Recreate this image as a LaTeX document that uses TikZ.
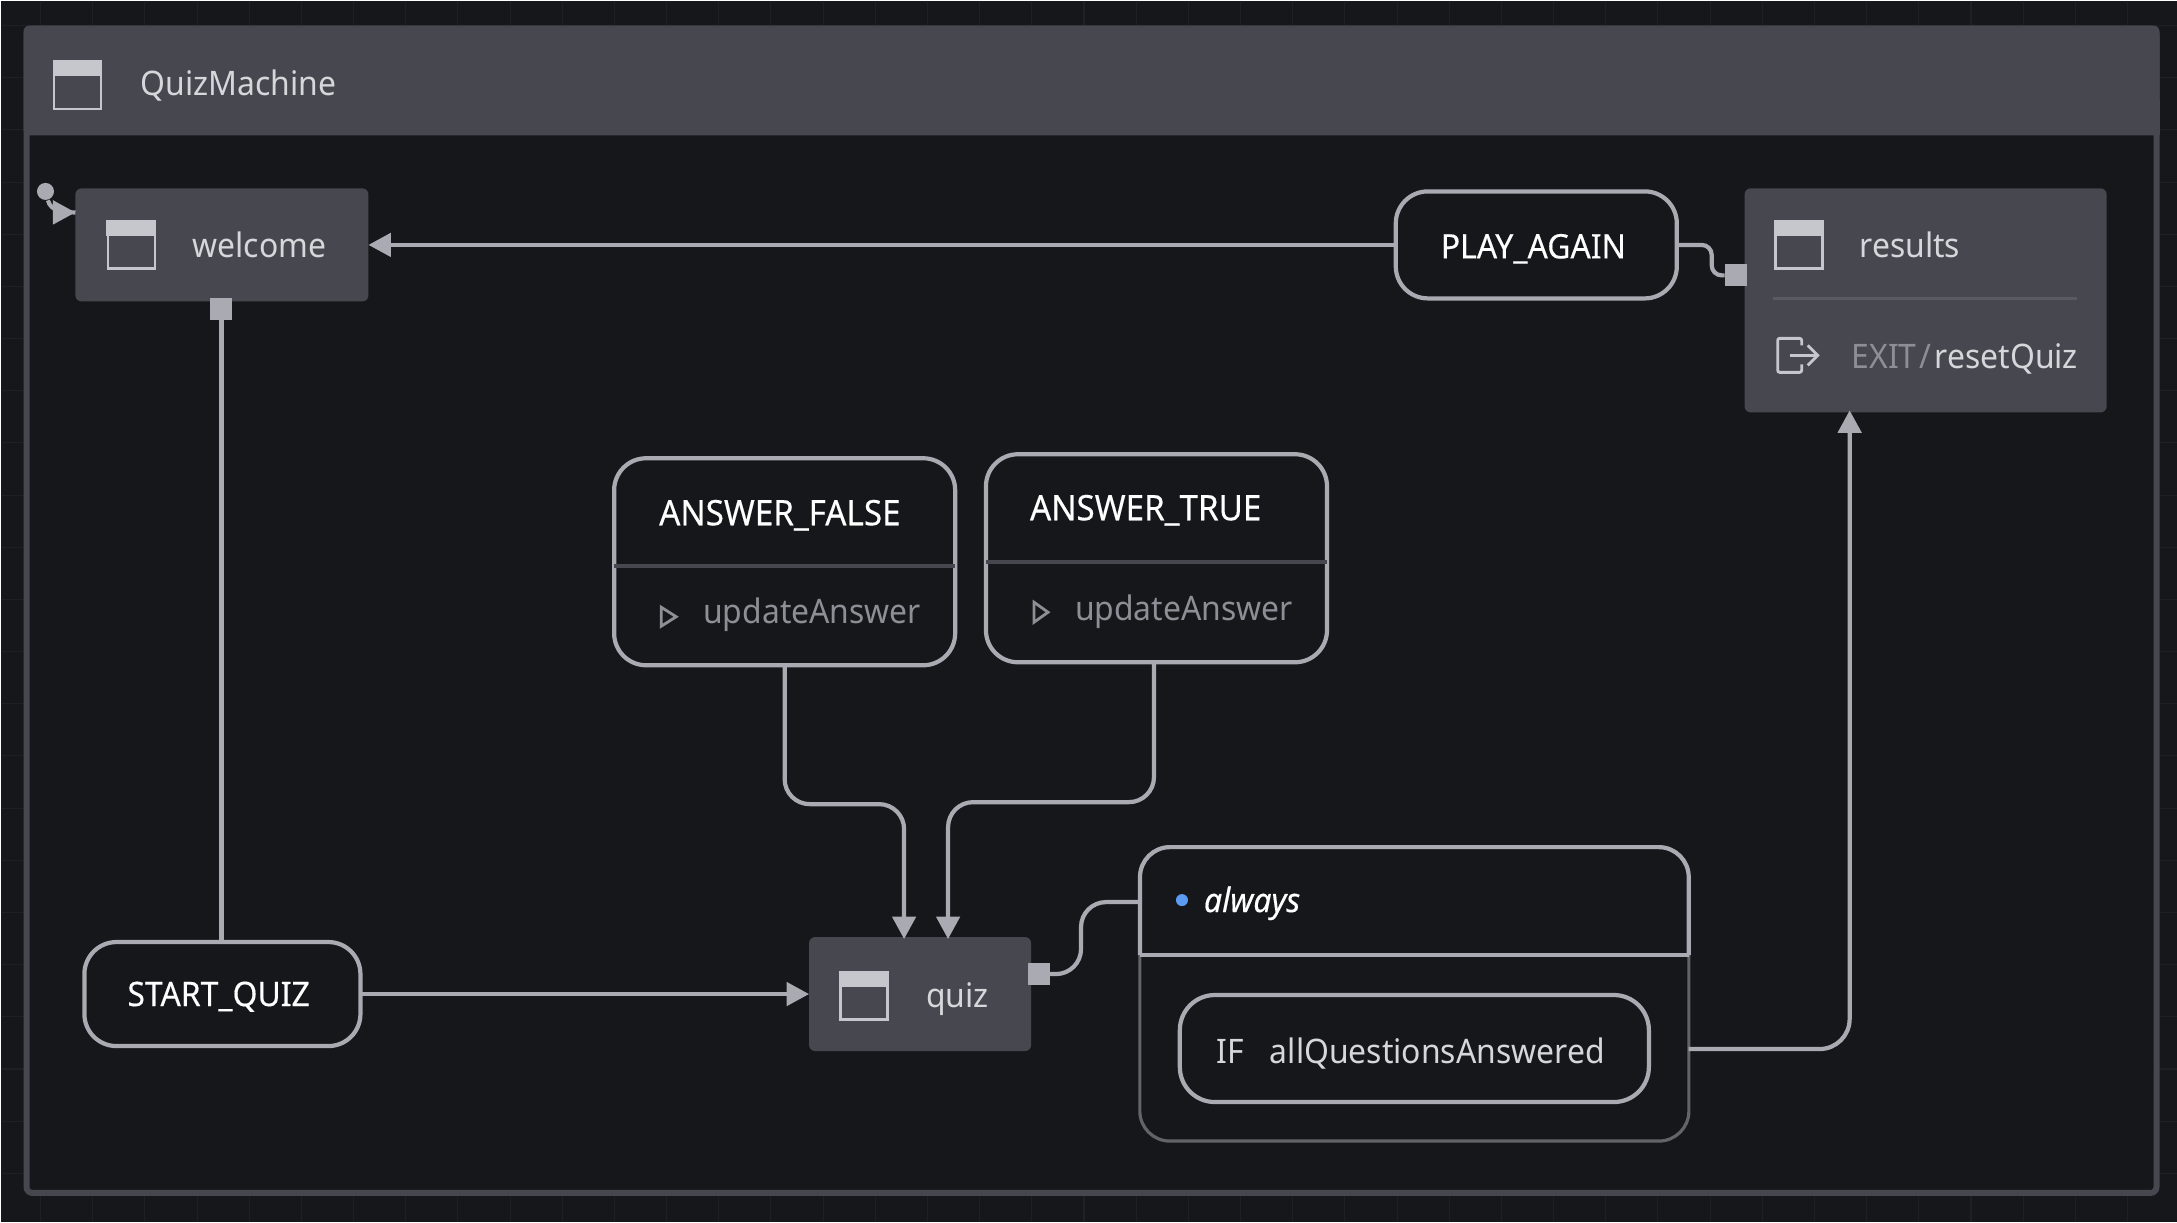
\documentclass[tikz,border=0pt]{standalone}
\usepackage{fontspec}
\setmainfont[FakeStretch=.945]{Noto Sans}
\usetikzlibrary{arrows.meta}

\definecolor{canvasbg}{HTML}{16171A}
\definecolor{gridgray}{HTML}{1F2024}
\definecolor{panelgray}{HTML}{47484F}
\definecolor{edgegray}{HTML}{A9AAB2}
\definecolor{icongray}{HTML}{C6C7CC}
\definecolor{labelgray}{HTML}{D6D7DB}
\definecolor{dimgray}{HTML}{8E8F96}
\definecolor{dotblue}{HTML}{5B9CF2}

\tikzset{
	statenode/.style = {fill=panelgray, rounded corners=.06cm, inner sep=0, outer sep=0},
	eventnode/.style = {draw=edgegray, fill=canvasbg, line width=1.2pt, rounded corners=.32cm, inner sep=0, outer sep=0},
	txt/.style = {anchor=base west, inner sep=0, outer sep=0, font=\fontsize{9.6}{11}\selectfont},
	statelabel/.style = {txt, text=labelgray},
	eventlabel/.style = {txt, text=white, font=\fontsize{9.6}{11}\selectfont\addfontfeature{FakeBold=.35}},
	answerlabel/.style = {txt, text=white, font=\fontsize{10}{11}\selectfont\addfontfeature{FakeBold=.35}},
	dimlabel/.style = {txt, text=dimgray},
	portnode/.style = {fill=edgegray, minimum size=.22cm, inner sep=0, outer sep=0},
	edgeline/.style = {draw=edgegray, line width=1.2pt},
	arrowline/.style = {edgeline, -{Triangle[length=6.4pt,width=6.6pt]}},
	dividerline/.style = {draw=panelgray, line width=1.2pt},
	stateicon/.pic = {
		\fill [icongray] (0,0) rectangle (50,16);
		\draw [icongray, line width=.8pt] (1.5,1.5) rectangle (48.5,48.5);
	}
}

\begin{document}
\begin{tikzpicture}[x=.01cm, y=-.01cm]
		% canvas and grid
		\fill [canvasbg] (0,0) rectangle (2177,1222);
		\foreach \k in {0,...,40}
			\draw [gridgray, line width=.3pt] ({40+52.2*\k},0) -- ({40+52.2*\k},1222);
		\foreach \k in {0,...,22}
			\draw [gridgray, line width=.3pt] (0,{25+52.2*\k}) -- (2177,{25+52.2*\k});
		
		% machine frame
		\draw [panelgray, fill=canvasbg, line width=1.7pt, rounded corners=.06cm] (26,28) rectangle (2157,1193);
		\fill [panelgray, rounded corners=.06cm] (23,25) rectangle (2160,135);
		\fill [panelgray] (23,100) rectangle (2160,135);
		\path (52,60) pic {stateicon};
		\node [statelabel] (machinelabel) at (140,95) {QuizMachine};
		
		% states
		\node [statenode, minimum width=2.93cm, minimum height=1.13cm] (welcome) at (221.5,244.5) {};
		\node [statenode, minimum width=3.62cm, minimum height=2.24cm] (results) at (1926,300) {};
		\node [statenode, minimum width=2.22cm, minimum height=1.14cm] (quiz) at (920,994) {};
		\path (106,220) pic {stateicon};
		\path (1774,220) pic {stateicon};
		\path (839,971) pic {stateicon};
		\node [statelabel] (welcomelabel) at (192,257) {welcome};
		\node [statelabel] (resultslabel) at (1860,257) {results};
		\node [statelabel] (quizlabel) at (926,1007) {quiz};
		\draw [panelgray!90!white, line width=.8pt] (1773,298) -- (2077,298);
		
		% exit action
		\draw [icongray, line width=.8pt, rounded corners=.02cm] (1802,345) -- (1802,338) -- (1778,338) -- (1778,372) -- (1802,372) -- (1802,364);
		\draw [icongray, line width=.8pt] (1790,355) -- (1818,355);
		\draw [icongray, line width=.8pt] (1808,345) -- (1818,355) -- (1808,365);
		\node [dimlabel] (exitlabel) at (1852,368) {EXIT\hspace{.9pt}/\hspace{.9pt}\textcolor{labelgray}{resetQuiz}};
		
		% events
		\node [eventnode, minimum width=2.76cm, minimum height=1.04cm] (startquiz) at (222,994) {};
		\node [eventnode, minimum width=2.81cm, minimum height=1.07cm] (playagain) at (1536.5,244.5) {};
		\node [eventnode, minimum width=3.41cm, minimum height=2.07cm] (answerfalse) at (784.5,561.5) {};
		\node [eventnode, minimum width=3.41cm, minimum height=2.08cm] (answertrue) at (1156.5,558) {};
		\node [eventlabel] (startlabel) at (127,1006) {START\_QUIZ};
		\node [eventlabel] (playlabel) at (1441,258) {PLAY\_AGAIN};
		\node [answerlabel] (falselabel) at (659,525) {ANSWER\_FALSE};
		\node [answerlabel] (truelabel) at (1030,520) {ANSWER\_TRUE};
		\draw [dividerline] (614,566) -- (955,566);
		\draw [dividerline] (986,562) -- (1327,562);
		\draw [dimgray, line width=.8pt] (661,607) -- (676,616.5) -- (661,626) -- cycle;
		\draw [dimgray, line width=.8pt] (1034,602) -- (1048,612) -- (1034,622) -- cycle;
		\node [dimlabel] (falseaction) at (703,623) {updateAnswer};
		\node [dimlabel] (trueaction) at (1075,620) {updateAnswer};
		
		% always block
		\node [draw=panelgray!85!white, fill=canvasbg, line width=.9pt, rounded corners=.3cm, minimum width=5.49cm, minimum height=2.94cm, inner sep=0, outer sep=0] (alwaysbox) at (1414.5,994) {};
		\draw [edgeline, rounded corners=.3cm] (1140,955) -- (1140,847) -- (1689,847) -- (1689,955);
		\draw [edgeline] (1140,955) -- (1689,955);
		\node [circle, fill=dotblue, minimum size=.12cm, inner sep=0] (alwaysdot) at (1182,900) {};
		\node [eventlabel, font=\fontsize{9.6}{11}\selectfont\itshape\addfontfeature{FakeBold=.35}] (alwayslabel) at (1204,912) {always};
		\node [eventnode, rounded corners=.35cm, minimum width=4.69cm, minimum height=1.07cm] (ifbox) at (1414.5,1048.5) {};
		\node [statelabel] (iflabel) at (1217,1063) {IF};
		\node [statelabel] (guardlabel) at (1270,1063) {allQuestionsAnswered};
		
		% ports
		\node [portnode] (welcomeout) at (221,309) {};
		\node [portnode] (resultsport) at (1736,275) {};
		\node [portnode] (quizout) at (1039,974) {};
		\node [circle, fill=edgegray, minimum size=.17cm, inner sep=0] (initdot) at (45,191) {};
		\coordinate (welcomein) at (75,212);
		\coordinate (quizleft) at (904,939);
		\coordinate (quizright) at (948,939);
		\coordinate (trueout) at (1154,662);
		\coordinate (alwaysin) at (1140,902);
		\coordinate (alwaysout) at (1689,1049);
		\coordinate (resultsin) at (1850,410);
		
		% connectors
		\draw [edgeline] (initdot) to[out=-75, in=180] (welcomein);
		\draw [arrowline] (57,212) -- (welcomein);
		\draw [edgeline] (startquiz.north -| welcomeout) -- (welcomeout);
		\draw [arrowline] (startquiz.east) -- (quiz.west);
		\draw [arrowline] (playagain.west) -- (welcome.east |- playagain.west);
		\draw [edgeline, rounded corners=.1cm] (playagain.east) -- (1712,244.5) -- (1712,275) -- (resultsport.west);
		\draw [arrowline, rounded corners=.25cm] (answerfalse.south) -- (784.5,804) -- (904,804) -- (quizleft);
		\draw [arrowline, rounded corners=.25cm] (trueout) -- (1154,802) -- (948,802) -- (quizright);
		\draw [edgeline, rounded corners=.25cm] (quizout.east) -- (1081,974) -- (1081,902) -- (alwaysin);
		\draw [arrowline, rounded corners=.3cm] (alwaysout) -| (resultsin);
		\end{tikzpicture}
\end{document}
